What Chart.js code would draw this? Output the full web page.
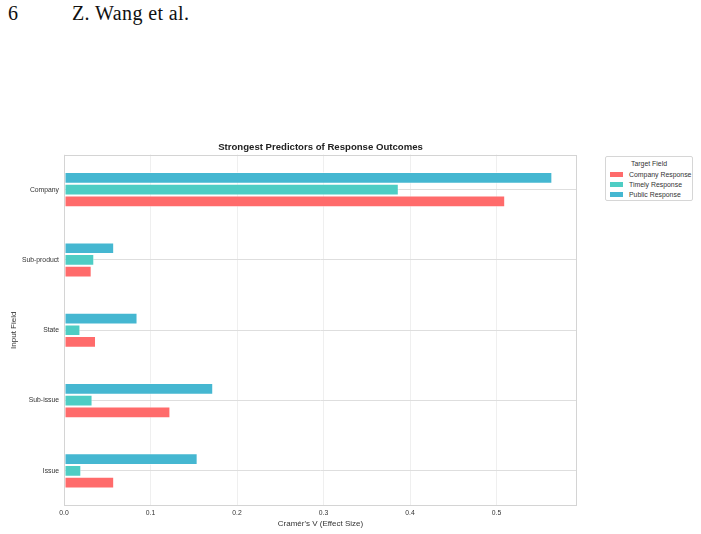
<!DOCTYPE html>
<html>
<head>
<meta charset="utf-8">
<script src="https://cdn.jsdelivr.net/npm/chart.js@4.4.0/dist/chart.umd.min.js"></script>
<style>
  html, body { margin: 0; padding: 0; background: #fff; }
  body { width: 701px; height: 534px; position: relative; overflow: hidden; }
  #wrap { position: absolute; left: 0; top: 0; width: 701px; height: 534px; }
  .hdr { position: absolute; font-family: "Liberation Serif", "Times New Roman", serif; font-size: 20px; letter-spacing: 0.4px; color: #111; top: 2px; }
  #legend { position: absolute; left: 605px; top: 156px; width: 88px; height: 45px; border: 1px solid #d6d6d6; border-radius: 2px; box-sizing: border-box; font-family: "Liberation Sans", Arial, sans-serif; font-size: 6.9px; color: #333; background: #fff; }
  #legend .t { position: absolute; left: 0; width: 100%; text-align: center; top: 3px; }
  #legend .row { position: absolute; left: 4px; height: 8px; line-height: 8px; white-space: nowrap; }
  #legend .sw { display: inline-block; width: 13px; height: 5px; vertical-align: middle; margin-right: 6px; margin-top: -1px; }
</style>
</head>
<body>
<div class="hdr" style="left:8px;">6</div>
<div class="hdr" style="left:72px;">Z. Wang et al.</div>
<div id="wrap"><canvas id="c" width="701" height="534"></canvas></div>
<div id="legend"></div>
<script>
const categories = ['Company', 'Sub-product', 'State', 'Sub-issue', 'Issue'];
const companyResponse = [0.510, 0.032, 0.037, 0.123, 0.058];
const timelyResponse  = [0.387, 0.035, 0.019, 0.033, 0.020];
const publicResponse  = [0.5645, 0.058, 0.085, 0.1725, 0.1545];
const seriesNames = ['Company Response', 'Timely Response', 'Public Response'];
const seriesColors = ['#FF6B6B', '#4ECDC4', '#45B7D1'];
const xTicks = [0.0, 0.1, 0.2, 0.3, 0.4, 0.5];

const FONT = '"Liberation Sans", Arial, sans-serif';

const boxPlugin = {
  id: 'box',
  afterDatasetsDraw(chart) {
    const a = chart.chartArea, ctx = chart.ctx;
    ctx.save();
    ctx.strokeStyle = '#d4d4d4';
    ctx.lineWidth = 1;
    ctx.strokeRect(Math.round(a.left) + 0.5, Math.round(a.top) + 0.5, Math.round(a.right - a.left) - 1, Math.round(a.bottom - a.top) - 1);
    ctx.restore();
  }
};

new Chart(document.getElementById('c'), {
  type: 'bar',
  data: {
    labels: categories,
    datasets: [
      { label: seriesNames[2], data: publicResponse, backgroundColor: seriesColors[2] },
      { label: seriesNames[1], data: timelyResponse, backgroundColor: seriesColors[1] },
      { label: seriesNames[0], data: companyResponse, backgroundColor: seriesColors[0] }
    ].map(d => Object.assign(d, { borderColor: 'rgba(255,255,255,0.55)', borderWidth: 1, borderSkipped: false, categoryPercentage: 0.5, barPercentage: 1.0 }))
  },
  options: {
    indexAxis: 'y',
    responsive: false,
    animation: false,
    devicePixelRatio: 1,
    layout: { padding: { left: 0, right: 124, top: 0, bottom: 0 } },
    plugins: {
      legend: { display: false },
      tooltip: { enabled: false },
      title: {
        display: true,
        text: 'Strongest Predictors of Response Outcomes',
        fullSize: false,
        color: '#222',
        font: { family: FONT, size: 9.6, weight: 'bold' },
        padding: { top: 142, bottom: 1 }
      }
    },
    scales: {
      x: {
        type: 'linear',
        min: 0,
        max: 0.593,
        afterFit(s) { s.height = 28; },
        afterBuildTicks(s) { s.ticks = xTicks.map(v => ({ value: v })); },
        ticks: { includeBounds: false, padding: 3, color: '#333', font: { family: FONT, size: 6.8 }, callback: v => Number(v).toFixed(1) },
        grid: { color: '#efefef', drawTicks: false, lineWidth: 1 },
        border: { display: false },
        title: { display: true, text: "Cramér's V (Effect Size)", color: '#333', font: { family: FONT, size: 8 }, padding: { top: 0, bottom: 5 } }
      },
      y: {
        type: 'category',
        afterFit(s) { s.width = 64; },
        ticks: { padding: 5, color: '#333', font: { family: FONT, size: 6.8 } },
        grid: { offset: false, color: '#dedede', drawTicks: false, lineWidth: 1 },
        border: { display: false },
        title: { display: true, text: 'Input Field', color: '#333', font: { family: FONT, size: 8 }, padding: { top: 9, bottom: 0 } }
      }
    }
  },
  plugins: [boxPlugin]
});

// legend (HTML)
const lg = document.getElementById('legend');
let html = '<div class="t">Target Field</div>';
seriesNames.forEach((n, i) => {
  html += '<div class="row" style="top:' + (14 + i * 10) + 'px"><span class="sw" style="background:' + seriesColors[i] + '"></span>' + n + '</div>';
});
lg.innerHTML = html;
</script>
</body>
</html>
